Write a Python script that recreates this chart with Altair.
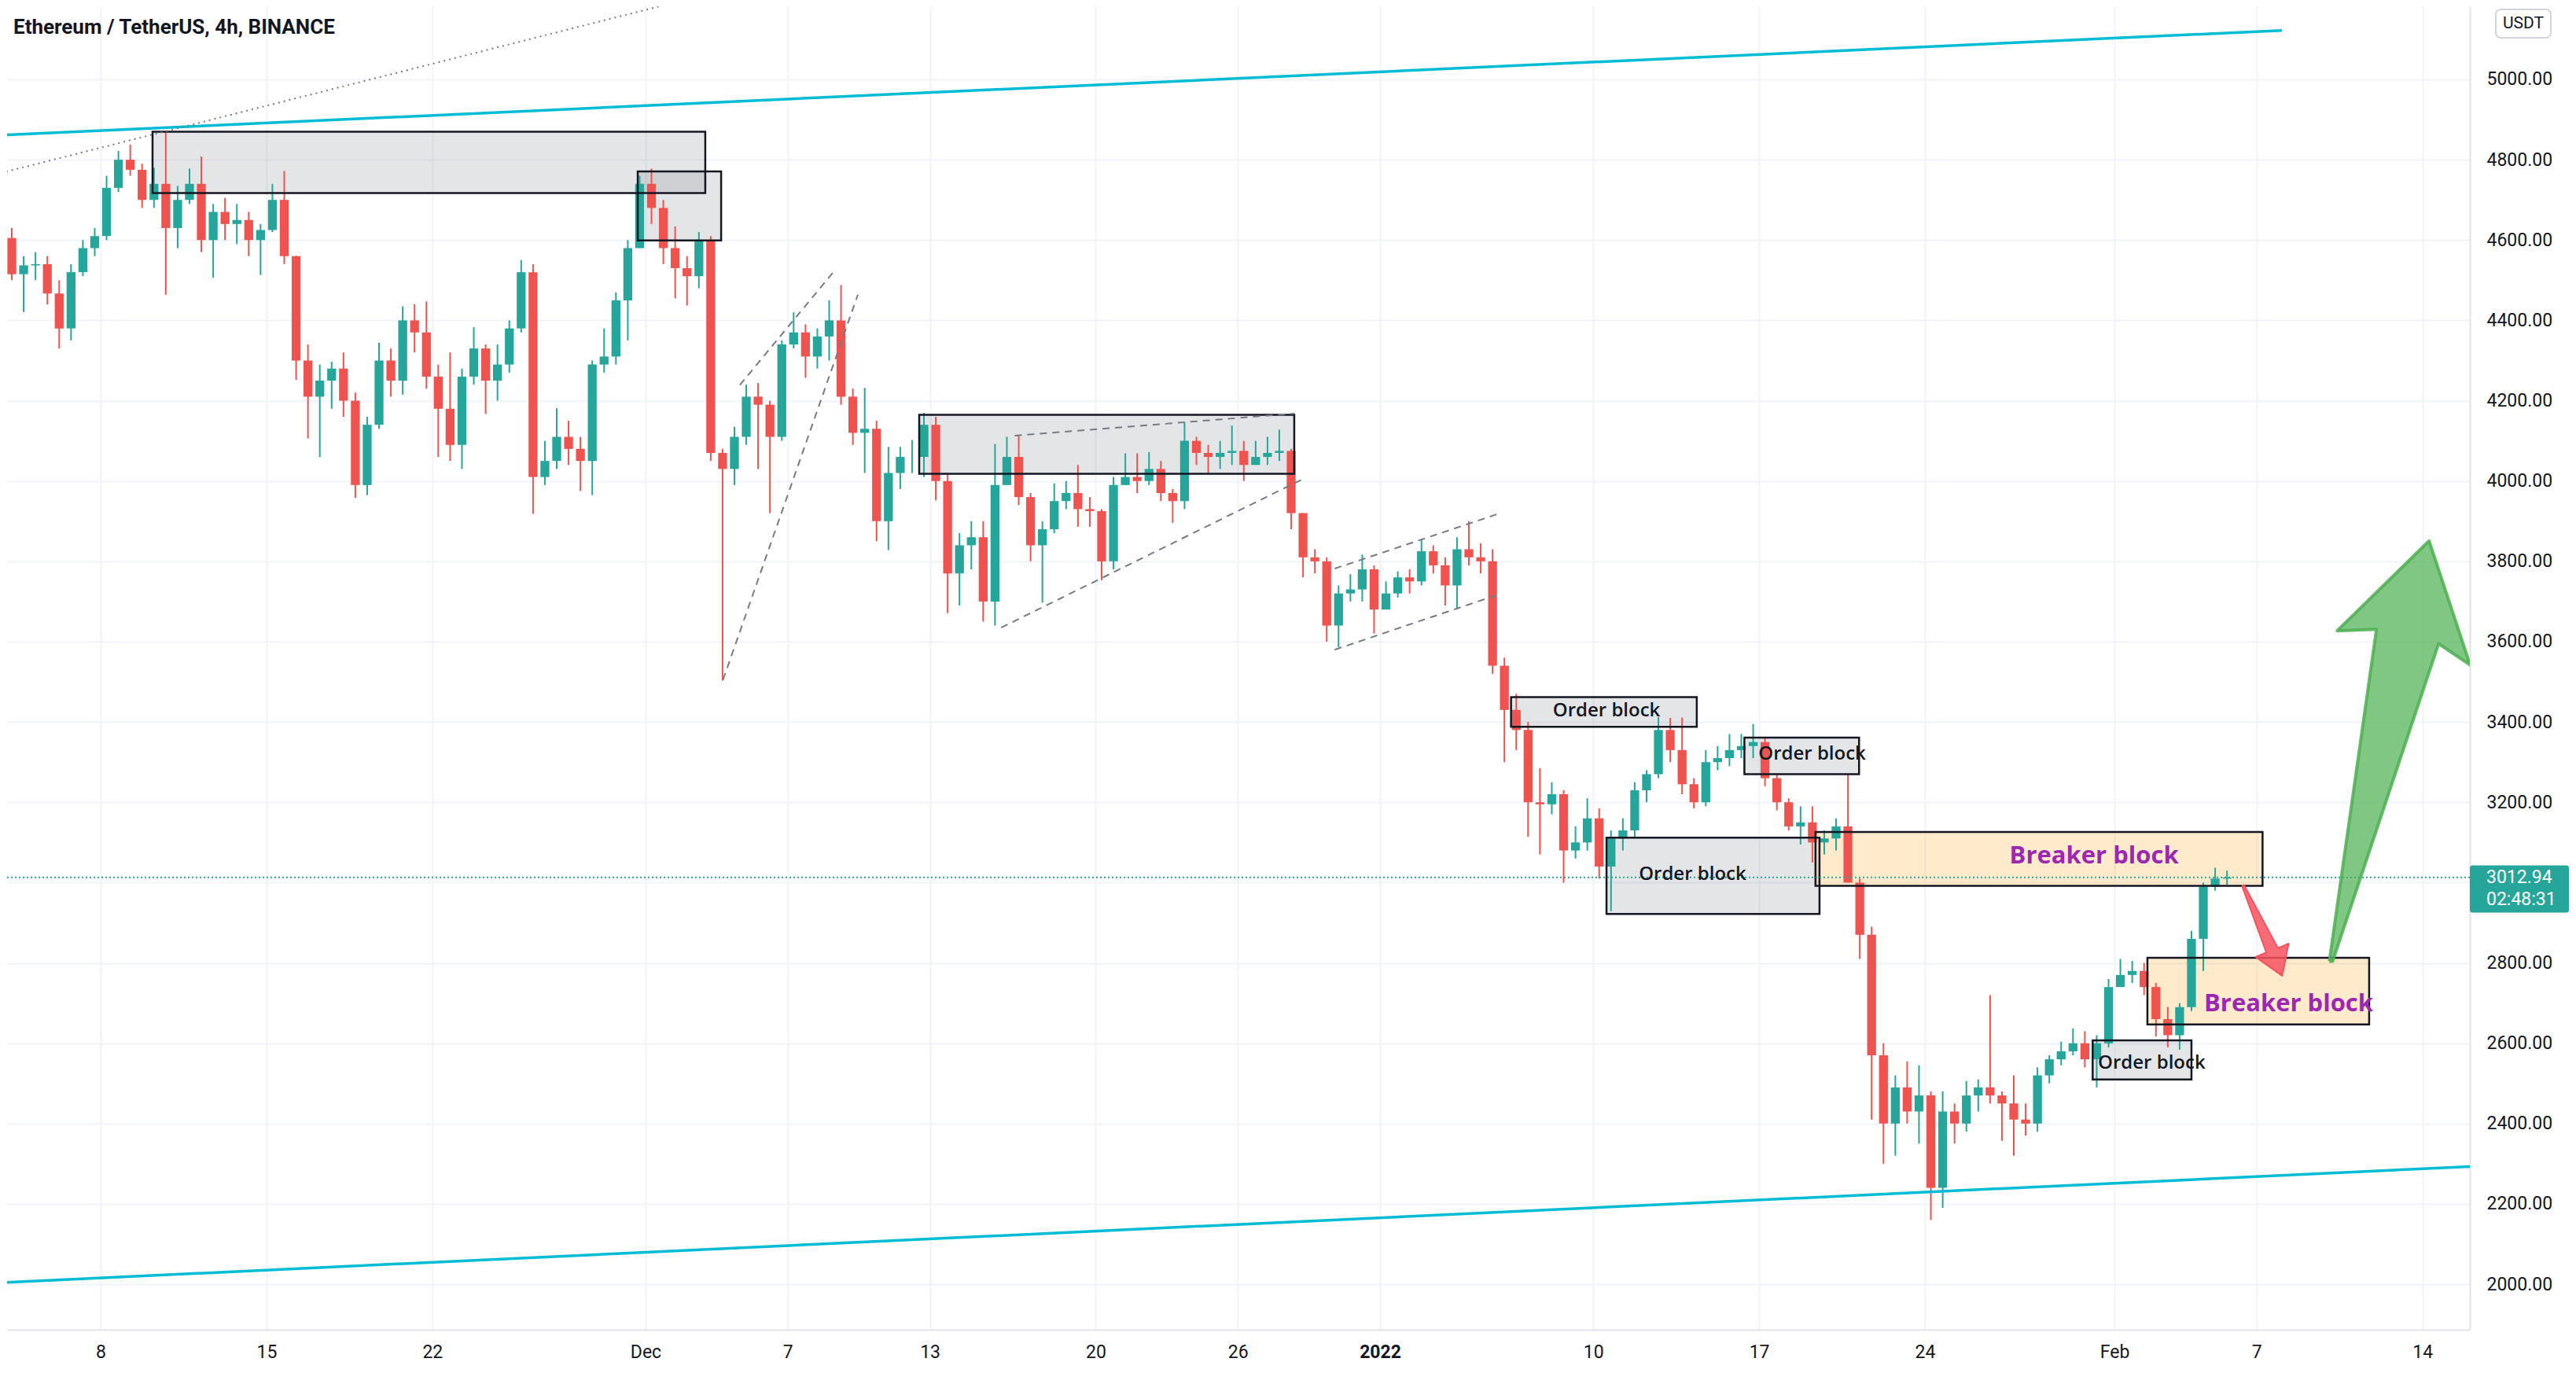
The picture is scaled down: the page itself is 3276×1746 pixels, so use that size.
import altair as alt
import pandas as pd

# ---------------------------------------------------------------------------
# Candles (12-hour bars), open = previous close
# ---------------------------------------------------------------------------
CANDLE_START = "2021-11-04 00:00"
FIRST_OPEN = 4605.0

closes = [
    4515, 4537, 4540, 4467, 4380, 4520, 4580, 4610,            # Nov 4-7
    4730, 4800, 4775, 4700, 4740, 4630, 4700, 4740,            # Nov 8-11
    4600, 4670, 4640, 4650, 4600, 4625, 4700, 4560,            # Nov 12-15
    4300, 4210, 4250, 4280, 4200, 3990, 4140, 4300,            # Nov 16-19
    4250, 4400, 4370, 4260, 4180, 4090, 4260, 4330,            # Nov 20-23
    4250, 4290, 4380, 4520, 4010, 4050, 4110, 4080,            # Nov 24-27
    4050, 4290, 4310, 4450, 4580, 4740,                        # Nov 28-30
    4680, 4580, 4530, 4510, 4600, 4070, 4030, 4110,            # Dec 1-4
    4210, 4190, 4110, 4340, 4370, 4310, 4360, 4400,            # Dec 5-8
    4210, 4120, 4130, 3900, 4020, 4060, 4060, 4140,            # Dec 9-12
    4000, 3770, 3840, 3860, 3700, 3990, 4060, 3960,            # Dec 13-16
    3840, 3880, 3950, 3970, 3930, 3925, 3800, 3990,            # Dec 17-20
    4010, 4000, 4030, 3970, 3950, 4100, 4070, 4060,            # Dec 21-24
    4070, 4075, 4040, 4060, 4070, 4075, 3920, 3810,            # Dec 25-28
    3800, 3640, 3720, 3730, 3780, 3680,                        # Dec 29-31
    3720, 3760, 3750, 3825, 3790, 3740, 3830, 3810,            # Jan 1-4
    3800, 3540, 3430, 3380, 3200, 3195, 3220, 3080,            # Jan 5-8
    3100, 3160, 3040, 3110, 3130, 3230, 3270, 3380,            # Jan 9-12
    3330, 3245, 3200, 3300, 3310, 3330, 3340, 3350,            # Jan 13-16
    3260, 3200, 3140, 3150, 3100, 3110, 3140, 3000,            # Jan 17-20
    2870, 2570, 2400, 2490, 2430, 2470, 2240, 2430,            # Jan 21-24
    2400, 2470, 2490, 2470, 2450, 2410, 2400, 2520,            # Jan 25-28
    2560, 2580, 2600, 2560, 2600, 2740,                        # Jan 29-31
    2770, 2780, 2740, 2660, 2620, 2690, 2860, 2990,            # Feb 1-4
    3010, 3012.94,                                             # Feb 5
]
highs = [
    4630, 4560, 4570, 4560, 4500, 4540, 4600, 4630,
    4760, 4822, 4838, 4790, 4780, 4868, 4735, 4778,
    4808, 4690, 4705, 4690, 4670, 4640, 4740, 4772,
    4561, 4340, 4290, 4297, 4320, 4220, 4160, 4344,
    4330, 4435, 4440, 4447, 4290, 4320, 4280, 4383,
    4340, 4340, 4400, 4550, 4540, 4100, 4181, 4150,
    4110, 4300, 4380, 4470, 4600, 4760,
    4778, 4700, 4634, 4560, 4620, 4610, 4080, 4135,
    4240, 4244, 4200, 4350, 4420, 4390, 4380, 4450,
    4488, 4230, 4232, 4150, 4085, 4085, 4102, 4170,
    4160, 4020, 3870, 3900, 3900, 4092, 4110, 4115,
    3970, 3900, 3994, 4000, 4040, 3960, 3930, 4010,
    4069, 4069, 4072, 4050, 3980, 4147, 4110, 4090,
    4100, 4138, 4100, 4100, 4110, 4128, 4080, 3920,
    3830, 3810, 3740, 3768, 3817, 3790,
    3750, 3775, 3780, 3855, 3840, 3810, 3860, 3900,
    3845, 3830, 3560, 3470, 3400, 3285, 3250, 3230,
    3140, 3210, 3185, 3130, 3160, 3250, 3280, 3412,
    3410, 3411, 3260, 3330, 3340, 3370, 3370, 3395,
    3360, 3270, 3210, 3190, 3190, 3130, 3160, 3270,
    3010, 2890, 2600, 2520, 2555, 2545, 2480, 2480,
    2450, 2506, 2510, 2720, 2480, 2520, 2450, 2540,
    2570, 2604, 2637, 2630, 2620, 2760,
    2810, 2805, 2800, 2750, 2690, 2700, 2880, 3000,
    3037, 3030,
]
lows = [
    4500, 4421, 4500, 4440, 4330, 4350, 4510, 4560,
    4600, 4720, 4760, 4680, 4680, 4464, 4580, 4690,
    4570, 4506, 4600, 4590, 4560, 4513, 4620, 4540,
    4252, 4106, 4060, 4180, 4160, 3958, 3965, 4130,
    4210, 4215, 4320, 4230, 4060, 4050, 4030, 4240,
    4167, 4200, 4270, 4370, 3918, 3990, 4030, 4040,
    3975, 3965, 4270, 4290, 4350, 4580,
    4640, 4540, 4455, 4437, 4480, 4050, 3503, 3990,
    4090, 4030, 3920, 4100, 4330, 4257, 4280, 4300,
    4190, 4090, 4020, 3850, 3828, 3980, 4020, 4010,
    3952, 3671, 3690, 3780, 3650, 3640, 3990, 3940,
    3800, 3697, 3870, 3930, 3886, 3886, 3753, 3780,
    3990, 3970, 3990, 3950, 3896, 3930, 4040, 4017,
    4030, 4040, 4000, 4040, 4040, 4050, 3880, 3760,
    3770, 3600, 3586, 3700, 3700, 3620,
    3680, 3710, 3720, 3740, 3770, 3690, 3680, 3790,
    3770, 3520, 3300, 3330, 3114, 3070, 3170, 3000,
    3060, 3080, 3010, 2929, 3080, 3110, 3200, 3260,
    3300, 3220, 3185, 3190, 3280, 3290, 3310, 3310,
    3240, 3180, 3130, 3095, 3050, 3070, 3080, 3000,
    2810, 2410, 2300, 2320, 2400, 2350, 2160, 2190,
    2350, 2380, 2430, 2450, 2357, 2320, 2370, 2380,
    2500, 2545, 2570, 2540, 2490, 2590,
    2740, 2750, 2720, 2617, 2590, 2584, 2680, 2780,
    2980, 2995,
]

PRICE_NOW = 3012.94
COUNTDOWN = "02:48:31"
TITLE = "Ethereum / TetherUS, 4h, BINANCE"

# ---------------------------------------------------------------------------
# Annotations (x in days after 2021-11-08 00:00 UTC, y in USDT)
# ---------------------------------------------------------------------------
DAY0 = "2021-11-08"
box_day0 = [2.19, 22.67, 34.55, 59.53, 69.38, 63.56, 84.08, 72.38, 86.39]
box_day1 = [25.52, 26.19, 50.38, 67.37, 74.22, 72.55, 88.25, 91.25, 95.75]
box_low = [4717, 4599, 4018, 3388, 3270, 2922, 2510, 2992, 2647]
box_high = [4870, 4771, 4165, 3462, 3361, 3112, 2607, 3126, 2813]
box_kind = ["gray"] * 7 + ["breaker"] * 2

label_text = ["Order block", "Order block", "Order block", "Order block",
              "Breaker block", "Breaker block"]
label_day = [63.56, 72.24, 67.19, 86.57, 84.14, 92.35]
label_price = [3428, 3319, 3021, 2551, 3066, 2697]

seg_day0 = [-4.215, -4.215, -4.215, 26.27, 26.98, 38.58, 38.01, 52.09, 52.09]
seg_day1 = [92.07, 100.0, 24.66, 31.96, 30.95, 50.39, 50.71, 59.08, 59.08]
seg_p0 = [4861, 2004, 4767, 3505, 4239, 4113, 3635, 3782, 3580]
seg_p1 = [5122, 2293, 5198, 4464, 4522, 4168, 4004, 3920, 3719]
seg_style = ["cyan", "cyan", "dotted", "dashed", "dashed", "dashed", "dashed",
             "dashed", "dashed"]

red_arrow_day = [90.38, 91.41, 90.96, 92.08, 92.35, 91.90, 90.47, 90.38]
red_arrow_price = [2992, 2826, 2815, 2768, 2848, 2837, 2994, 2992]
green_arrow_day = [94.07, 96.06, 94.40, 98.28, 100.01, 98.68, 94.21, 94.07]
green_arrow_price = [2804, 3631, 3627, 3851, 3542, 3595, 2804, 2804]

tick_dates = ["2021-11-08", "2021-11-15", "2021-11-22", "2021-12-01", "2021-12-07",
              "2021-12-13", "2021-12-20", "2021-12-26", "2022-01-01", "2022-01-10",
              "2022-01-17", "2022-01-24", "2022-02-01", "2022-02-07", "2022-02-14"]
tick_labels = ["8", "15", "22", "Dec", "7", "13", "20", "26", "2022", "10", "17",
               "24", "Feb", "7", "14"]
price_ticks = list(range(2000, 5001, 200))
HIDDEN_PRICE_LABEL = 3000   # covered by the live-price tag in the reference

# ---------------------------------------------------------------------------
HOUR = 3600 * 1000
DAY = 24 * HOUR


def ts_ms(s):
    return int(pd.Timestamp(s, tz="UTC").value // 10**6)


BASE = ts_ms(DAY0)


def day_ms(d):
    return BASE + d * DAY


n = len(closes)
start = ts_ms(CANDLE_START)
opens = [FIRST_OPEN] + closes[:-1]
t_open = [start + i * 12 * HOUR for i in range(n)]
candles = pd.DataFrame({
    "tm": [t + 6 * HOUR for t in t_open],
    "tb0": [t + 1.5 * HOUR for t in t_open],
    "tb1": [t + 10.5 * HOUR for t in t_open],
    "open": opens,
    "close": closes,
    "high": [max(h, o, c) for h, o, c in zip(highs, opens, closes)],
    "low": [min(l, o, c) for l, o, c in zip(lows, opens, closes)],
    "dir": ["up" if c >= o else "down" for o, c in zip(opens, closes)],
})

boxes = pd.DataFrame({
    "x0": [day_ms(d) for d in box_day0], "x1": [day_ms(d) for d in box_day1],
    "p0": box_low, "p1": box_high, "kind": box_kind,
})
labels = pd.DataFrame({"x": [day_ms(d) for d in label_day], "p": label_price,
                       "label": label_text})
segs = pd.DataFrame({
    "x0": [day_ms(d) for d in seg_day0], "x1": [day_ms(d) for d in seg_day1],
    "p0": seg_p0, "p1": seg_p1, "style": seg_style,
})
red_df = pd.DataFrame({"i": range(len(red_arrow_day)),
                       "x": [day_ms(d) for d in red_arrow_day], "p": red_arrow_price})
green_df = pd.DataFrame({"i": range(len(green_arrow_day)),
                         "x": [day_ms(d) for d in green_arrow_day], "p": green_arrow_price})

# ---------------------------------------------------------------------------
W, H = 3132, 1683
x_domain = [day_ms(-3.9495), day_ms(100.0)]
y_domain = [1886.6, 5182.1]

xs = alt.Scale(type="utc", domain=x_domain)
ys = alt.Scale(domain=y_domain, nice=False, zero=False)

arr_d = "[" + ",".join("'%s'" % d for d in tick_dates) + "]"
arr_l = "[" + ",".join("'%s'" % l for l in tick_labels) + "]"
label_expr = "%s[indexof(%s, utcFormat(datum.value, '%%Y-%%m-%%d'))]" % (arr_l, arr_d)
y_label_expr = "datum.value == %d ? '' : format(datum.value, '.2f')" % HIDDEN_PRICE_LABEL

x_axis = alt.Axis(
    values=[ts_ms(d) for d in tick_dates], labelExpr=label_expr, title=None,
    grid=True, gridColor="#f0f3fa", gridWidth=2, ticks=False,
    domainColor="#e0e3eb", domainWidth=2, labelFont="Roboto", labelFontSize=23,
    labelColor="#131722", labelPadding=17, labelFlush=False, labelOverlap=False,
    labelFontWeight={"condition": {"test": "utcFormat(datum.value, '%m-%d') == '01-01'",
                                   "value": "bold"}, "value": "normal"},
)
y_axis = alt.Axis(
    orient="right", values=price_ticks, labelExpr=y_label_expr, title=None, grid=True,
    gridColor="#f0f3fa", gridWidth=2, ticks=False, domainColor="#e0e3eb",
    domainWidth=2, labelFont="Roboto", labelFontSize=23, labelColor="#131722",
    labelPadding=21, labelOverlap=False,
)


def X(f):
    return alt.X(f, type="temporal", scale=xs, axis=x_axis)


def Y(f):
    return alt.Y(f, type="quantitative", scale=ys, axis=y_axis)


candle_color = alt.Color("dir:N", scale=alt.Scale(domain=["up", "down"],
                                                  range=["#26a69a", "#ef5350"]), legend=None)

box_fill = alt.Chart(boxes).mark_rect(fillOpacity=0.2, clip=True).encode(
    x=X("x0"), x2="x1", y=Y("p0"), y2="p1",
    fill=alt.Fill("kind:N", scale=alt.Scale(domain=["gray", "breaker"],
                                            range=["#787b86", "#ff9800"]), legend=None),
)
wicks = alt.Chart(candles).mark_rule(strokeWidth=2, clip=True).encode(
    x=X("tm"), y=Y("low"), y2="high", color=candle_color)
bodies = alt.Chart(candles).mark_rect(clip=True).encode(
    x=X("tb0"), x2="tb1", y=Y("open"), y2="close", color=candle_color)
box_border = alt.Chart(boxes).mark_rect(fillOpacity=0, stroke="#131722",
                                        strokeWidth=2.5, clip=True).encode(
    x=X("x0"), x2="x1", y=Y("p0"), y2="p1")

cyan = alt.Chart(segs[segs["style"] == "cyan"]).mark_rule(
    color="#00bcd4", strokeWidth=3.5, clip=True).encode(
    x=X("x0"), x2="x1", y=Y("p0"), y2="p1")
dashed = alt.Chart(segs[segs["style"] == "dashed"]).mark_rule(
    color="#787b86", strokeWidth=2, strokeDash=[9, 7], clip=True).encode(
    x=X("x0"), x2="x1", y=Y("p0"), y2="p1")
dotted = alt.Chart(segs[segs["style"] == "dotted"]).mark_rule(
    color="#787b86", strokeWidth=2, strokeDash=[2, 5], clip=True).encode(
    x=X("x0"), x2="x1", y=Y("p0"), y2="p1")

price_line = alt.Chart(pd.DataFrame({"p": [PRICE_NOW]})).mark_rule(
    color="#26a69a", strokeWidth=2, strokeDash=[2, 3]).encode(y=Y("p"))

red_arrow = alt.Chart(red_df).mark_line(clip=True, strokeWidth=2, strokeJoin="round").encode(
    x=X("x"), y=Y("p"), order="i:Q", fill=alt.value("#f7525f"),
    fillOpacity=alt.value(0.85), stroke=alt.value("#f7525f"))
green_arrow = alt.Chart(green_df).mark_line(clip=True, strokeWidth=4, strokeJoin="round").encode(
    x=X("x"), y=Y("p"), order="i:Q", fill=alt.value("#4caf50"),
    fillOpacity=alt.value(0.7), stroke=alt.value("#4caf50"), strokeOpacity=alt.value(0.85))

ob_text = alt.Chart(labels[labels["label"] == "Order block"]).mark_text(
    font="Open Sans", fontSize=24, fontWeight=600, color="#131722",
    align="center", baseline="middle").encode(x=X("x"), y=Y("p"), text="label:N")
bb_text = alt.Chart(labels[labels["label"] == "Breaker block"]).mark_text(
    font="Open Sans", fontSize=31, fontWeight="bold", color="#9c27b0",
    align="center", baseline="middle").encode(x=X("x"), y=Y("p"), text="label:N")

title = alt.Chart(pd.DataFrame({"t": [TITLE]})).mark_text(
    font="Roboto", fontSize=26, fontWeight="bold", color="#131722",
    align="left", baseline="alphabetic").encode(
    x=alt.value(8), y=alt.value(35), text="t:N")

usdt_box = alt.Chart(pd.DataFrame({"t": ["USDT"]})).mark_rect(
    fill="#ffffff", stroke="#d1d4dc", strokeWidth=2, cornerRadius=6).encode(
    x=alt.value(3165), x2=alt.value(3235), y=alt.value(4), y2=alt.value(40))
usdt_text = alt.Chart(pd.DataFrame({"t": ["USDT"]})).mark_text(
    font="Roboto", fontSize=21, color="#131722", align="center", baseline="middle").encode(
    x=alt.value(3200), y=alt.value(22), text="t:N")

pbox = pd.DataFrame({"p0": [2925.6], "p1": [3043.0]})
price_box = alt.Chart(pbox).mark_rect(fill="#26a69a", cornerRadius=3).encode(
    x=alt.value(3132), x2=alt.value(3258), y=Y("p0"), y2="p1")
ptext = pd.DataFrame({"p": [PRICE_NOW, 2957.0], "t": ["%.2f" % PRICE_NOW, COUNTDOWN]})
price_text = alt.Chart(ptext).mark_text(
    font="Roboto", fontSize=23, color="#ffffff", align="left", baseline="middle").encode(
    x=alt.value(3153), y=Y("p"), text="t:N")

chart = alt.layer(
    box_fill, wicks, bodies, box_border, cyan, dashed, dotted, price_line,
    red_arrow, green_arrow, ob_text, bb_text, title, usdt_box, usdt_text,
    price_box, price_text,
).properties(width=W, height=H, padding=0, background="#ffffff").configure_view(strokeWidth=0)

chart.save("out.html", embed_options={"renderer": "svg", "actions": False})
